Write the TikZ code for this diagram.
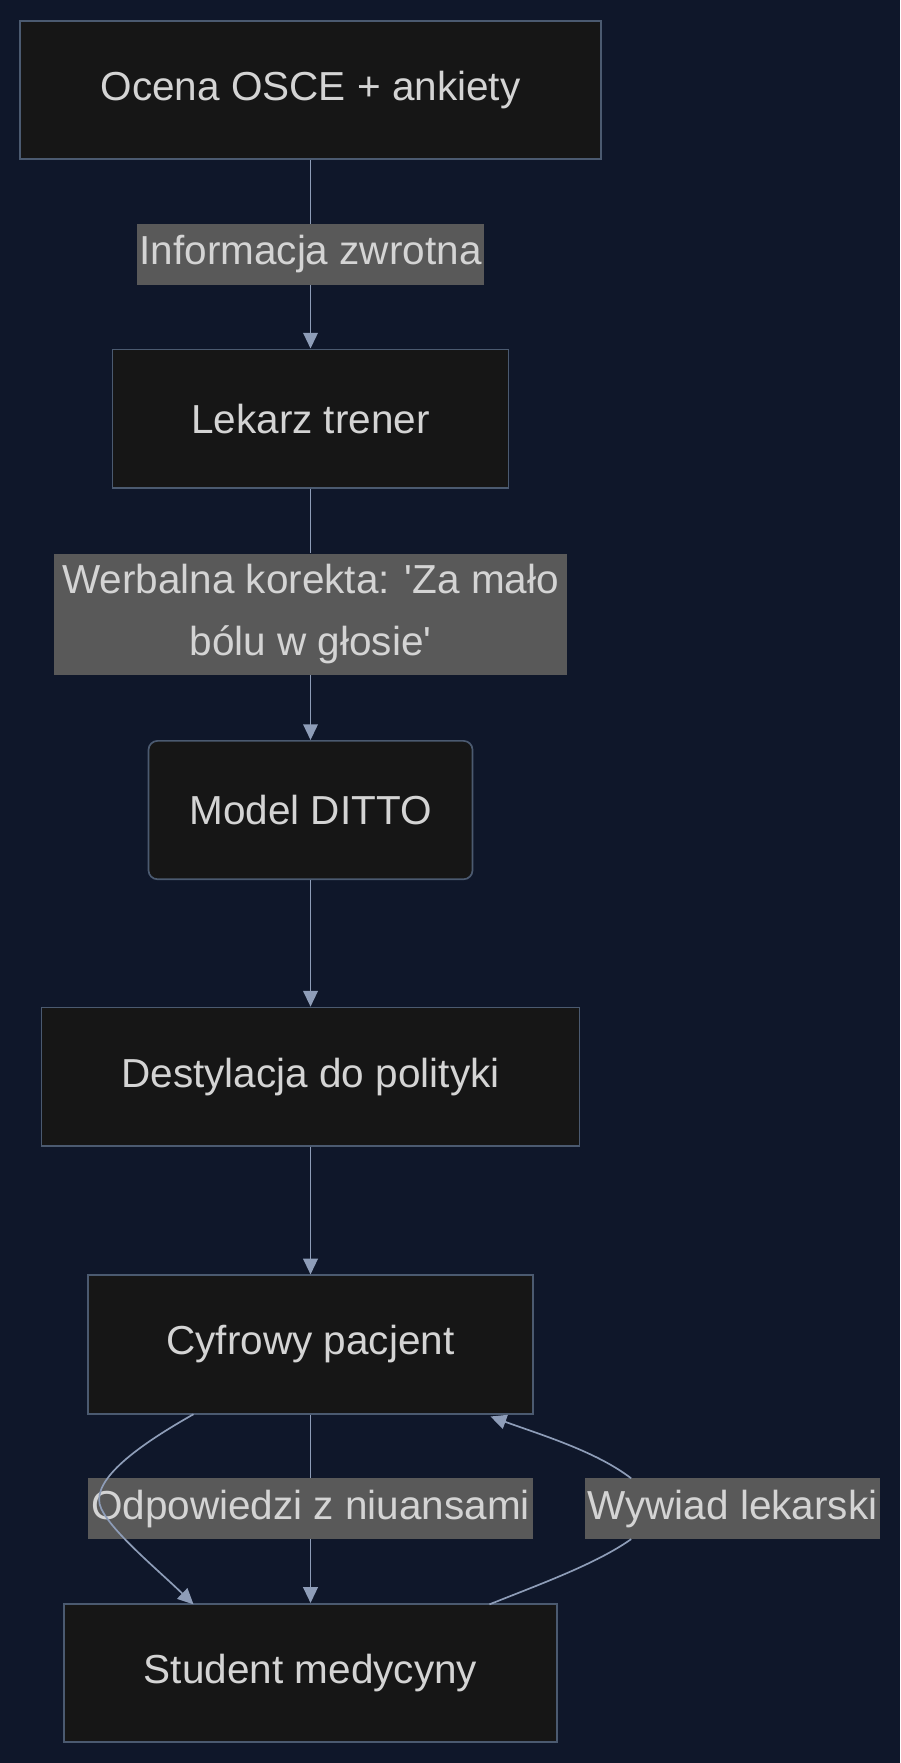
\documentclass[tikz,border=0pt]{standalone}
\usepackage{fontspec}
\setmainfont{Liberation Sans}
\usetikzlibrary{arrows.meta}
\definecolor{bg}{HTML}{0F172A}
\definecolor{nodefill}{HTML}{161616}
\definecolor{nodeborder}{HTML}{4B5A70}
\definecolor{txt}{HTML}{D4D4D4}
\definecolor{lblbg}{HTML}{595959}
\definecolor{edge}{HTML}{8E9DB8}
\begin{document}
\begin{tikzpicture}[x=1pt,y=-1pt,
  box/.style={draw=nodeborder,line width=1.5pt,fill=nodefill,text=txt,font=\fontsize{36}{44}\selectfont,inner sep=0pt},
  lbl/.style={fill=lblbg,text=txt,font=\fontsize{36}{44}\selectfont,inner sep=0pt,align=center},
  conn/.style={draw=edge,line width=1.5pt},
  arr/.style={conn,-{Triangle[length=14pt,width=13pt]}}]
\fill[bg] (0,0) rectangle (800,1567);
\useasboundingbox (0,0) rectangle (800,1567);
\node[box,minimum width=516pt,minimum height=123pt] (a) at (276,80) {Ocena OSCE + ankiety};
\node[box,minimum width=352pt,minimum height=123pt] (b) at (276,372) {Lekarz trener};
\node[box,rounded corners=8pt,minimum width=288pt,minimum height=123pt] (c) at (276,720) {Model DITTO};
\node[box,minimum width=478pt,minimum height=123pt] (d) at (276,957) {Destylacja do polityki};
\node[box,minimum width=396pt,minimum height=123pt] (e) at (276,1195) {Cyfrowy pacjent};
\node[box,minimum width=438pt,minimum height=123pt] (f) at (276,1487) {Student medycyny};
\node[lbl,minimum width=308pt,minimum height=54pt] (l1) at (276,226) {Informacja zwrotna};
\node[lbl,minimum width=456pt,minimum height=108pt,font=\fontsize{36}{55}\selectfont] (l2) at (276,546) {Werbalna korekta: \textquotesingle Za mało\\bólu w głosie\textquotesingle};
\node[lbl,minimum width=395pt,minimum height=54pt] (l3) at (276,1341) {Odpowiedzi z niuansami};
\node[lbl,minimum width=262pt,minimum height=54pt] (l4) at (651,1341) {Wywiad lekarski};
\draw[conn] (a) -- (l1); \draw[arr] (l1) -- (b);
\draw[conn] (b) -- (l2); \draw[arr] (l2) -- (c);
\draw[arr] (c) -- (d);
\draw[arr] (d) -- (e);
\draw[conn] (e) -- (l3); \draw[arr] (l3) -- (f);
\coordinate (e1) at (172,1257);
\coordinate (f1) at (172,1426);
\draw[arr] (e1) .. controls (110,1292) and (80,1320) .. (90,1341) .. controls (100,1362) and (140,1395) .. (f1);
\coordinate (f2) at (435,1426);
\coordinate (e2) at (436,1259);
\coordinate (w1) at (561,1368);
\coordinate (w2) at (561,1314);
\draw[conn] (f2) .. controls (480,1408) and (530,1390) .. (w1);
\draw[arr] (w2) .. controls (530,1290) and (480,1275) .. (e2);
\end{tikzpicture}
\end{document}
